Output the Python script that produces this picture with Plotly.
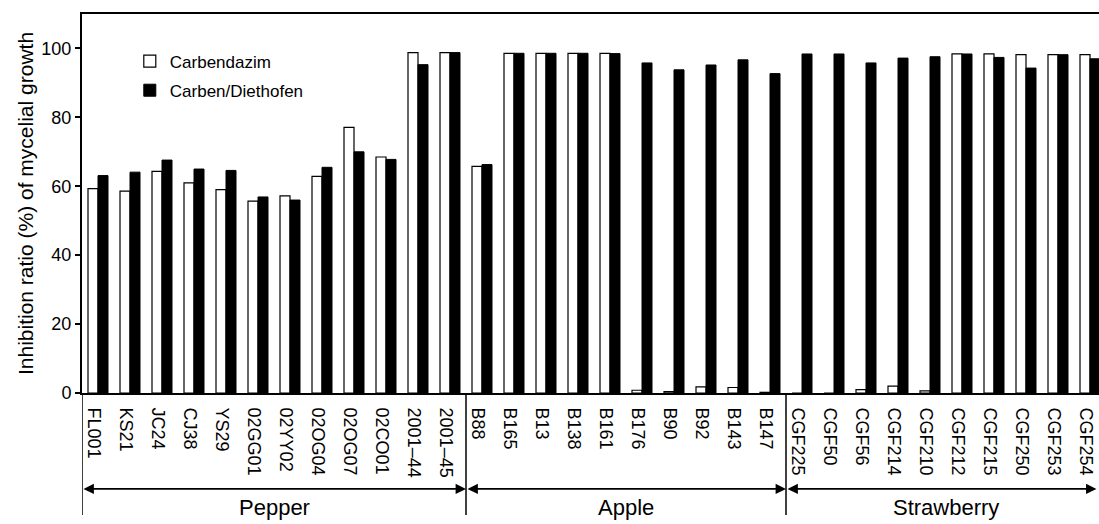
import plotly.graph_objects as go

isolates = ["FL001", "KS21", "JC24", "CJ38", "YS29", "02GG01", "02YY02", "02OG04",
            "02OG07", "02CO01", "2001–44", "2001–45",
            "B88", "B165", "B13", "B138", "B161", "B176", "B90", "B92", "B143", "B147",
            "CGF225", "CGF50", "CGF56", "CGF214", "CGF210", "CGF212", "CGF215",
            "CGF250", "CGF253", "CGF254"]

carbendazim = [59.3, 58.6, 64.3, 61.0, 59.0, 55.7, 57.2, 62.9, 77.1, 68.5, 98.8, 98.8,
               65.8, 98.6, 98.6, 98.6, 98.6, 0.8, 0.4, 1.8, 1.6, 0.2,
               0.0, 0.0, 1.0, 2.0, 0.6, 98.4, 98.4, 98.2, 98.2, 98.2]

carben_diethofen = [63.1, 64.1, 67.6, 65.0, 64.6, 56.9, 56.0, 65.5, 70.0, 67.8, 95.3, 98.8,
                    66.3, 98.6, 98.6, 98.6, 98.5, 95.8, 93.8, 95.2, 96.7, 92.7,
                    98.4, 98.4, 95.8, 97.2, 97.6, 98.4, 97.4, 94.3, 98.2, 97.0]

hosts = ["Pepper", "Apple", "Strawberry"]
host_counts = [12, 10, 10]

y_ticks = [0, 20, 40, 60, 80, 100]

FONT = "Liberation Sans, Arial, sans-serif"

fig = go.Figure()
fig.add_trace(go.Bar(
    x=isolates, y=carbendazim, name="Carbendazim", legendgroup="a",
    marker=dict(color="white", line=dict(color="black", width=1.2)),
))
fig.add_trace(go.Bar(
    x=isolates, y=carben_diethofen, name="Carben/Diethofen", legendgroup="b",
    marker=dict(color="black", line=dict(color="black", width=1)),
))

x_right = -0.5 + (1099 - 82) / 32.0

# group separators, arrows and host labels below the axis
start = -0.5
for host, cnt in zip(hosts, host_counts):
    end = start + cnt
    fig.add_shape(type="line", xref="x", yref="paper", x0=start, x1=start,
                  y0=0, y1=-0.322, line=dict(color="black", width=1.5))
    head = min(end, x_right - 0.08)
    fig.add_annotation(xref="x", yref="paper", x=head, y=-0.253,
                       axref="x", ayref="pixel", ax=start, ay=0,
                       showarrow=True, arrowhead=2, arrowside="end+start",
                       arrowsize=1.3, arrowwidth=1.6, arrowcolor="black",
                       standoff=0, startstandoff=0, text="")
    fig.add_annotation(xref="x", yref="paper", x=(start + end) / 2, y=-0.303,
                       text=host, showarrow=False, yanchor="middle",
                       font=dict(family=FONT, size=22, color="black"))
    start = end

fig.update_layout(
    width=1099, height=524,
    margin=dict(l=82, r=0, t=14, b=131, autoexpand=False),
    paper_bgcolor="white", plot_bgcolor="white",
    barmode="group", bargap=0.375, bargroupgap=0,
    font=dict(family=FONT, size=18, color="black"),
    showlegend=True,
    legend=dict(x=0.047, y=0.922, xanchor="left", yanchor="top",
                bgcolor="rgba(0,0,0,0)", tracegroupgap=4,
                font=dict(family=FONT, size=17, color="black")),
    xaxis=dict(range=[-0.5, x_right], showline=True, linecolor="black", linewidth=2,
               mirror=True, ticks="", tickangle=90, showgrid=False, zeroline=False,
               automargin=False, ticklabelstandoff=9, ticklabelshift=-4,
               tickfont=dict(family=FONT, size=18, color="black")),
    yaxis=dict(range=[0, 110], tickvals=y_ticks, showline=True, linecolor="black",
               linewidth=2, ticks="outside", ticklen=5, tickwidth=1.5, tickcolor="black",
               showgrid=False, zeroline=False, automargin=False,
               title=dict(text="Inhibition ratio (%) of mycelial growth",
                          font=dict(family=FONT, size=21, color="black"), standoff=2),
               tickfont=dict(family=FONT, size=18, color="black")),
)

# remove the page's default body margin so the 1099x524 figure fills the window exactly
fig.write_html("out.html",
               config={"displayModeBar": False},
               post_script="document.body.style.margin='0';document.body.style.overflow='hidden';")
